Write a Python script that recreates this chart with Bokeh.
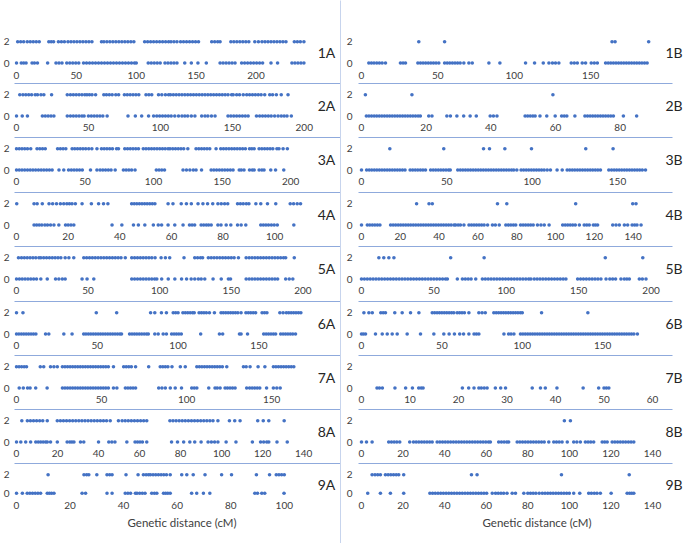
from bokeh.plotting import figure
from bokeh.layouts import row, column
from bokeh.models import Range1d, FixedTicker, Title, LinearAxis
from bokeh.core.properties import value
from bokeh.embed import file_html
from bokeh.resources import INLINE

DOT = "#4472C4"
RULE = "#8FAADC"
TICK = "#404040"
FONT = "Lato"

# ---------------- data: marker positions (cM) at genotype class 2 and 0 ----------------
chr1A_at2 = [1,3.5,6,9,11.5,14,16.5,19, 27,29,31, 35,37.5,40, 43,45.5,48,50.5,53,55.5,58,60.5,63, 71,73,75.5,78,80.5,83,85.5,88,90.5,93,95.5,98,
             107,109.5,112,114.5,117,119.5,122,124.5,127, 129,131.5,134, 137,139.5,142,144.5,147,149.5,152, 163,165.5,168,170,
             179,181.5,184,186.5,189,191.5,194, 199, 202, 205,207.5,210,212.5,215,217.5,220,222.5,225, 232,234.5,237,240]
chr1A_at0 = [0, 4,6,8, 13,15,17.5, 26, 33,35.5,38, 42,44.5,47,49.5,52, 56,58.5,61,63.5,66,68.5,71,73.5,76,78.5,81,83.5,86,88.5,91,93.5,96,98.5,100,
             110,112.5,115,117.5,120, 124,126.5,129,131.5,134, 140.5, 146, 151.5, 158.5, 170,172.5,175,177.5,180,182.5,
             188,190.5,193,195.5,198,200.5,203,205.5, 212.5, 218, 230,232.5,235,237.5,240]
chr2A_at2 = [2.3,4.5,6.5,8.5,10.5,13, 14.6,17,19, 24.4, 35.3,37.5,39.5,41.5,43.5,45.5,47.5,49, 50.7,52.5,55, 60.7,62.5,64.5,66.5,69,71,
             75,77,79,81,83,85, 90,92,94, 98.7,101,103.5,105.7, 107,109,111,113,115,117,119,121,123,125,127,129,131,133,135,137,139,141,143,145,147,149.5,
             150.6,153,155,157.6, 160,162,164,166,168,170,172.5, 176,178,180.6, 184, 188.7]
chr2A_at0 = [0, 4, 7.6, 18,20,22,24,26, 35.3,37.5,39.5,41.5,43.5,45.5,47, 50,52,54,56,58,60,63, 77.5, 82.6, 87, 91.8,
             95.3,97.5,99.5,101.5,103.5,105.5,107.5,110,112.6, 115,117,119,121.5,124, 128.7,131,133,135.5,138,
             147,149,151,153,155,157,159,161, 166.8,169,171,173,175,177,179.4, 181.8,184,186,188,191]
chr3A_at2 = [0,2,4,6,8,10.4, 15,17,19,21, 30,32,34,36, 40.6,42.5,44.5,46.5,48.5,50.5,52.7, 55, 58.7, 62,64,66,68,70,73, 74.4,
             79,81,83,85,87,89, 92.5,94.5,96.5,98.5,100.5,102.5,104.5,106.5,108.5,110.6, 112,114,116,118,120,122,125,
             131,133,135,137,139,141, 145.6, 149,151,153,155,157,159,161,163,165,167, 170,171.7,173.4,
             177,179,181,183,185,187,190, 191.5,194.5,197.6]
chr3A_at0 = [0,2,4,6,8,10,12,14,16,18,20,22,24,26, 31, 34.5, 38,40,42,44,46,48, 54, 58.7,61,63,65,67,69,72, 78,80,82,84, 86.5,
             102,104,106,108, 121.5,124,126.5,129,131, 135, 142,144,146,148,150,152,154,156,158, 162.5,164,166,
             170,172,173.4, 177,179,180.6, 185.5, 189, 195]
chr4A_at2 = [0.1, 6.8,8,10, 12.6,14,15.5,17, 18.3,19.5,20.5,21.5,22.8, 25.4, 29, 31.8, 33.7, 35.4,
             44.6,45.6,46.6,47.6,48.6,49.6,50.6,51.6,52.6,53.6, 58.7,60.6, 63.8,65.8, 67.7, 70.3, 72.2, 74, 76,
             78,79.3,80.6,81.8, 85.6,86.7,87.8,89,90, 92.7,94.6, 97.2, 100.4, 106,107.3,108.7,110]
chr4A_at0 = [6.8,7.8,8.8,9.8,11,12,13.2, 14.5,16.4, 19,20,21.1,22.2, 37, 40.8, 45.3,47.2, 49.7, 53,54.9, 56.2, 58.7, 61.3, 64.5,
             67,68,69, 71.5,72.5,73.5,74.4,75.4, 78,79.2, 81.2, 83, 85.6,87, 88.8, 94.6,95.6,96.6,97.6,98.7,99.8,101, 107.4]
chr5A_at2 = [1.4,3.5,5.5,7.5,9.5,11.5,13.5,15.7, 17,19,21,23,25,27,29,31,34, 36.6,40,
             47,49,51,53,55,57,59,61,63,65,67,69,71,73,76, 80.5,82.5,84.5,86.5,88.5,90.5,92.5,94.5,96.8, 101,104,107, 117,
             124.5,126.5,128.5,130, 134,136,138,140,142,144,146,148,150,152,155,
             160.4,162.5,164.5,166.5,168.5,170.5,172.5,174.5,176.5,178.5,180.5,182.5,184.5,186.5,188, 194]
chr5A_at0 = [0,2,4,6,8,10,12,14,17, 21.5, 27.3, 29.6,32,34, 45.8,49.3, 54, 80.5,82.5,84.5,86.5,88.5,90.5,92.5,94.5,96.5,98,
             101.4, 106, 110.6, 115.3, 118.8, 122,124.5,127,129,131.5, 137.3, 143, 148,149.5,
             160.4,162.5,164.5,166.5,168.5,170.5,172.5,174.5,176.5,178.5,180.5,182.4, 188,190.5,193]
chr6A_at2 = [0, 4, 49.4, 62, 83, 85.6, 89.7, 92.8, 97,98.5,100, 103,104.5,106,107.5,109,110, 113,114.5,116,117.5,119.4, 122.5,
             126.6,128,129.5,131,132.5,134,135.5,137,139, 142,143.5,145,146.5,148, 152,153.5,155,
             163,165,167,168.5,170,171.5,173,174.5,176]
chr6A_at0 = [0,1.5,3,4.5,6,7.5,9,10.5,12, 18,20, 29.3, 34.4,
             41.6,43,44.5,46,47.5,49,50.5,52,53.5,55,56.5,58,59.5,61,62.5,64,65, 70,71.5,73,74.5,76,77.5,79,80.5,81.6,
             85.6,87.7, 90.8,92.8, 96,97.5,99,100.5,102, 114, 125.6,127.6, 138,139, 143, 153,154.5,156,157.5,159,160.4,
             163.5,165,166.5,168,169.5,171,172.7]
chr7A_at2 = [0,1.5,3,4.5,5.9, 14,16, 20,22,24, 27,28.5,30,31.5,33,34.5,36,37.5,39,40.5,42,43.5,45,46.5,48,49.5,51,52.5,54,57,
             63,64.5,66,67.5,70, 77.7, 84.5,86,87.5,89,91.4, 96.3, 99.2, 106,107.5,109,110.5,112,113.5,115,116.5,118,119.5,121,123.6,
             133.4,135,137.3, 142, 146, 151,152.5,154,155.5,157,158.5,160,161.5,163]
chr7A_at0 = [1.6,4,6.5,8,11.3, 18, 27,28.5,30,31.5,33,34.5,36,37.5,39,40.5,42,43.5,45,46.5,48,49.5,51,52.5,54, 57, 59,
             64,65.5,67,68.5,70, 83.6,85.5,87.5, 90.4,93.3, 97, 103,104.5,106, 113, 116.7,118,119.7,
             122.6,124,125.5,127,128.5, 135.3,137,138.5,140,141.5,143, 147, 151,153,155]
chr8A_at2 = [2.6, 5.3,6.8,8.3,9.8,11.3,12.8,15, 19.9,21.4,22.9,24.4,25.9,27.4,28.9,30.4,31.9,33.4,34.9,36.4,37.9,39.4,40.9,42.4,43.9,45.7,
             49.7,51.5,53,54.5,56,57.5,59,60.5,62,63.5, 74.8,76.3,77.8,79.3,80.8,82.3,83.8,85.3,86.8,88.3,89.8,91.3,92.8,94.3,95.8,98.2,
             103.8,106.4,109, 117.6,120.3,123, 130.5]
chr8A_at0 = [0, 2.1, 4.5, 6.9, 9.4,10.6,11.8,13,14.2,15, 16.6, 19.9, 24.7,26,27,28, 31.2,32.8, 40, 45,46.5,48, 53.8,
             57.8,59,60.2,61.4,63.5, 75.6,78.5,81.5,84.5, 86.9, 90, 93.4,95,96.6, 98.2, 102.2, 107, 115, 119,120.5,122,123, 127, 132]
chr9A_at2 = [11.8, 25.2,26.2,27, 30, 33.8,34.8,35.7, 40.9, 45.4,47.4,48.4,49.3, 50,51,52,53,54,55,56,57.4,
             61.7,63.6, 66, 70.4, 76.6, 80.3, 89.6, 94.5, 97,98,99,100]
chr9A_at0 = [0, 2.2, 4,5,6,7,8,9, 11.5,12.3,13.1,14, 24.5,25.8, 33.8,35.7, 40.6,41.6,42.6,44.4, 45,46,47,48,
             50.5,51.5,52.4, 54.9,55.7,56.5,57.4, 65.4, 67.3, 69.8, 72.2, 89,90,91.6,92.7, 99.9]

chr1B_at2 = [37.5, 54.4, 164, 166, 188]
chr1B_at0 = [4.8,6.5,8.2,10,11.7,13.5,15.7, 25.5,27.2,28.8, 36.9,38.6,40.3,42,43.7,45.4,47.1,48.8,50.6,
             54.4,56.1,57.8,59.5,61.2,62.9,64.6,67, 70.3,72.5, 83.4, 90.6, 107.4, 113.3, 119, 122.7,125,127,129.2,
             137.3,139.3,141.3, 144.5,146.7, 150.4,152.4,154.4,
             159.8,161.5,163.2,164.9,166.6,168.3,170,171.7,173.4,175.1,176.8,178.5,180.2,181.9,183.6,185.3,187]
chr2B_at2 = [1.2, 15.6, 59.2]
chr2B_at0 = [1.5,2.3,3.1,3.9,4.7,5.5,6.3,7.1,7.9,8.7,9.5,10.3,11.1,11.9,12.7,13.5,14.3,15.1,15.9,16.7,17.5,18.2,
             20.8,21.8, 26.4,27.5, 29.5, 31.6, 33.6, 35.5, 39.8,40.8,41.9, 50.6,51.4,52.2,53,53.7, 55.2, 57.3, 59.9,
             61.9,62.7,63.5, 66, 69.1,69.9,70.7,71.5,72.3,73.1,73.9,74.7,75.5,76.3,77.1,77.9, 81, 85.1]
chr3B_at2 = [16.6, 48.2, 71.5, 75, 84, 99.6, 131.4, 147.4]
chr3B_at0 = [0,3,4.5,6,7.5,9,10.5,12,13.5,15,16.5,18,19.5,21,22.5,24,25.5,28.5,30,31.5,33,34.5,36,37.5,40.5,42,43.5,45,46.5,48,49.5,51,52,
             56.4,57.9,59.4,60.9,62.4,63.9,65.4,66.9,68.4,69.9,71.4,72.9,74.4,75.9,77.4,78.9,80.4,81.9,83.4,84.9,86.4,87.9,89.2,
             91, 93.5,95,96.5, 98,99.5,101,102.5,104,105.5,107,108.8, 110.7, 114.6, 117.6,
             120.5,122,123.5,125,126.5,128,129.5,131,132.5,134,135.5,137,138.5,140,
             144.9,146.5,148,149.5,151,152.5,154,155.5,157,158.5,160,161.5,163,164.5,166.4]
chr4B_at2 = [28.4, 34.8, 36.5, 70.1, 74.9, 110.4, 139.8, 141.5]
chr4B_at0 = [0, 3,4.3,5.6,6.9,8.2,9.5, 15,16.3,17.6,18.9,20.2,21.5,22.8,24.1,25.4,26.7,28,29.3,30.6,31.9,33.2,34.5,35.8,37.1,38.4,39.7,
             41,42.3,43.6,44.9,46.2,47.7, 48.5,49.8,51, 52.8, 55.4,56.7,58,59.3,60.6,61.9,63.2,65, 67.5,69,71,
             74.4,75.7,77,78.3,79.5, 82,83.3,84.6,85.9,87.2,88.5,90.7, 92.5,94.2, 96.7, 103.7,105,106.3,107.6,108.9,110.2,112.3,
             114.8,116.1,117.4, 119.5,120.6,121.7, 129.5,131.2,132.9, 135.5, 137.2, 139.5,140.8,142, 144.1]
chr5B_at2 = [12, 15.4, 18.9, 22.4, 61.6, 84.7, 168.4, 194.3]
chr5B_at0 = [0,2,4,6,8,10,12,14,16,18,20,22,24,26,28,30,32,34,36,38,40,42,44,46,48,50,52,54,56,58,59.3,
             66.2, 69.7,71.7,73.7,75.7,78.9,
             83.5,85.5,87.5,89.5,91.5,93.5,95.5,97.5,99.5,101.5,103.5,105.5,107.5,109.5,111.5,113.5,115.5,117,
             119.3,121.3,123.3,125.3,127.3,129.3,131.3,133.3,135.3,137.3,139.3,141.2,
             149.3,151.3,153.3,155.3,157.3,159.3,161.3,163.3,165.4, 168.9, 171.5,173.5,175.5, 179.2, 181.5,183.3,185, 191.9,194,196.5]
chr6B_at2 = [1.5, 4.6, 6.7, 12,13.5,14.9, 20.7, 25.3, 30.5, 35.7, 44,45.5,47,48.5,50,51.5,53,54.5,56,57.4, 59.5,61,62.5,64,66.8, 73,75,77,
             82.3,83.8,85.3,86.8,88.3,89.8,91.3,92.8,94.3,95.8,97.3,98.8,100, 112, 140.8]
chr6B_at0 = [0,1.2,2.5, 8.7, 12.9, 16, 19.1, 22.2, 28.4, 36.7, 45, 51.2, 54.5, 57.8, 61.1, 63.5, 66.8, 70,71.5,73, 88.6, 91.5,93,94.8,
             98.9,100.4,101.9,103.4,104.9,106.4,107.9,109.4,110.9,112.4,113.9,115.4,116.9,118.4,119.9,121.4,122.9,124.4,125.9,127.4,
             128.9,130.4,131.9,133.4,134.9,136.4,137.9,139.4,140.9,142.4,143.9,145.4,146.9,148.4,149.9,151.4,152.9,154.4,155.9,
             157.4,158.9,160.4,161.9,163.4,164.9,166.4,167.9,169.4,171.6]
chr7B_at2 = []
chr7B_at0 = [3.2,3.7,4.3, 6.9, 9.1, 10.5, 11.8,12.3,12.7, 20.8, 22.1, 23.2, 24.2,24.7,25.3,25.9, 27.6, 28.7, 29.7,
             35.2, 36.9, 37.9, 40.3, 45.7, 48.9, 50,50.5,51]
chr8B_at2 = [97.6, 100.5]
chr8B_at0 = [0, 2.4, 5.1, 13.1,14.4,15.7,17,18.4, 23.2,25,26.3,27.6,28.9,30.2,31.5,32.8,34,
             36.4,37.7,39,40.3,41.6,42.9,44.2,45.5,46.8,48.1,49.4,50.7,52,53.3,54.6,55.9,57.2,58.5,59.8,61.1,62,
             66,67.3,68.6,69.9,70.8, 74.9,76.2,77.5,78.8,80.1,81.4,82.7,84,85.3,86.6,87.9,90.1, 92.5,93.8,95.1,96.5, 99,
             102.1,103.6,105.3, 107.7,109,110.3,111.7, 115.8,117,118.2, 120.6,121.9,123.2,124.5,125.8,127.1,128.4,129.7,131]
chr9B_at2 = [5.1, 6.5, 7.8, 9.1, 11.5,12.8,14.1,15.4,16.7,17.9, 20.3, 52.9, 55.6, 96.2, 128.8]
chr9B_at0 = [3, 9.1, 13.9, 20.3, 32.9,34.2,35.5,36.8,38.1,39.4,40.7,42,43.3,44.6,45.9,47.2,48.5,49.8,51.1,52.4,53.7,55,56.3,57.6,58.9,60.2,
             62.9, 64.5,65.8,67.1,68.4, 70,72.5,74.1, 78.1, 80,81.3,82.6,83.9, 85.5, 87,88.3,89.6,90.9,92.2,93.5,94.8,96.1,97.4,98.7,100,102.1,
             105, 109.3,110.6,112,113.3,114.9, 120.1, 127.8,129,130,131]

# axis extents (cM) and tick labels per chromosome
axis_max = {"1A": 241.5, "2A": 201, "3A": 211, "4A": 112, "5A": 202, "6A": 179, "7A": 170, "8A": 141, "9A": 108,
            "1B": 190.5, "2B": 90, "3B": 170.5, "4B": 150, "5B": 201, "6B": 181, "7B": 60, "8B": 140, "9B": 140}
ticks_by50_200 = [0, 50, 100, 150, 200]
ticks_by50_150 = [0, 50, 100, 150]
ticks_by20_100 = [0, 20, 40, 60, 80, 100]
ticks_by20_80 = [0, 20, 40, 60, 80]
ticks_by20_140 = [0, 20, 40, 60, 80, 100, 120, 140]
ticks_by10_60 = [0, 10, 20, 30, 40, 50, 60]
axis_ticks = {"1A": ticks_by50_200, "2A": ticks_by50_200, "3A": ticks_by50_200, "4A": ticks_by20_100, "5A": ticks_by50_200,
              "6A": ticks_by50_150, "7A": ticks_by50_150, "8A": ticks_by20_140, "9A": ticks_by20_100,
              "1B": ticks_by50_150, "2B": ticks_by20_80, "3B": ticks_by50_150, "4B": ticks_by20_140, "5B": ticks_by50_200,
              "6B": ticks_by50_150, "7B": ticks_by10_60, "8B": ticks_by20_140, "9B": ticks_by20_140}
genotype_classes = [0, 2]
x_title = "Genetic distance (cM)"

left_data = [("1A", chr1A_at2, chr1A_at0), ("2A", chr2A_at2, chr2A_at0), ("3A", chr3A_at2, chr3A_at0),
             ("4A", chr4A_at2, chr4A_at0), ("5A", chr5A_at2, chr5A_at0), ("6A", chr6A_at2, chr6A_at0),
             ("7A", chr7A_at2, chr7A_at0), ("8A", chr8A_at2, chr8A_at0), ("9A", chr9A_at2, chr9A_at0)]
right_data = [("1B", chr1B_at2, chr1B_at0), ("2B", chr2B_at2, chr2B_at0), ("3B", chr3B_at2, chr3B_at0),
              ("4B", chr4B_at2, chr4B_at0), ("5B", chr5B_at2, chr5B_at0), ("6B", chr6B_at2, chr6B_at0),
              ("7B", chr7B_at2, chr7B_at0), ("8B", chr8B_at2, chr8B_at0), ("9B", chr9B_at2, chr9B_at0)]

# ---------------- layout geometry (pixels) ----------------
PANEL_H = [82, 54, 55, 54, 55, 54, 54, 54, 81]      # figure heights, sum = 543
FRAME_TOP = [30, 1, 1, 1, 1, 1, 1, 1, 1]           # border above each frame (separator sits on frame top)
FRAME_H = [35, 35, 35, 35, 35, 35, 35, 35, 33]
ROW_GAP = [21.2, 21.2, 21.2, 21.2, 21.2, 21.2, 21.2, 21.2, 18.5]  # px between class 2 and class 0
TOP_GAP = 11.3                                      # px from frame top to class 2
TICK_STANDOFF = [6, 5, 5, 5, 5, 5, 5, 5, 5]
SIDE = {
    "L": dict(width=340, bl=12, pad=2, inner=291, lab_dx=12, ystand=5, sep0=-2, sep1=326, title_off=113),
    "R": dict(width=344, bl=17, pad=3, inner=291, lab_dx=13, ystand=6, sep0=-21, sep1=311, title_off=124),
}


def style_axis(ax, size="10px"):
    ax.axis_line_color = None
    ax.major_tick_line_color = None
    ax.minor_tick_line_color = None
    ax.major_tick_out = 0
    ax.major_tick_in = 0
    ax.major_label_text_font = FONT
    ax.major_label_text_font_size = size
    ax.major_label_text_color = TICK


def make_panel(name, at2, at0, k, side):
    g = SIDE[side]
    xmax = axis_max[name]
    per_px = xmax / g["inner"]
    frame_w = g["width"] - g["bl"]
    x_lo = -g["pad"] * per_px
    x_hi = (frame_w - g["pad"]) * per_px
    ppu = ROW_GAP[k] / 2.0
    y_hi = 2 + TOP_GAP / ppu
    y_lo = -(FRAME_H[k] - TOP_GAP - ROW_GAP[k]) / ppu
    h = PANEL_H[k]
    top = FRAME_TOP[k]
    bottom = h - top - FRAME_H[k]
    p = figure(width=g["width"], height=h, output_backend="svg", toolbar_location=None, title=None,
               x_range=Range1d(x_lo, x_hi), y_range=Range1d(y_lo, y_hi),
               min_border_left=g["bl"], min_border_right=0, min_border_top=top, min_border_bottom=bottom,
               outline_line_color=None, background_fill_color="white", border_fill_color="white")
    p.xgrid.visible = False
    p.ygrid.visible = False
    p.scatter(x=at2, y=[genotype_classes[1]] * len(at2), size=3.6, color=DOT, line_color=None)
    p.scatter(x=at0, y=[genotype_classes[0]] * len(at0), size=3.6, color=DOT, line_color=None)
    p.text(x=[xmax], y=[1], text=[name], x_offset=g["lab_dx"], text_baseline="middle", text_align="left",
           text_font=value(FONT), text_font_size="14px", text_color="#262626")

    xa = p.xaxis[0]
    xa.ticker = FixedTicker(ticks=axis_ticks[name])
    style_axis(xa)
    xa.major_label_standoff = TICK_STANDOFF[k]

    ya = p.yaxis[0]
    ya.ticker = FixedTicker(ticks=genotype_classes)
    style_axis(ya)
    ya.major_label_standoff = g["ystand"]

    if k > 0:
        sep = LinearAxis(ticker=FixedTicker(ticks=[]), axis_line_color=RULE, axis_line_width=1,
                         major_tick_line_color=None, minor_tick_line_color=None, major_tick_out=0, major_tick_in=0,
                         major_label_text_font_size="0px", major_label_standoff=0,
                         bounds=(g["sep0"] * per_px, g["sep1"] * per_px))
        p.add_layout(sep, "above")
    if k == 8:
        p.add_layout(Title(text=x_title, align="left", offset=g["title_off"], text_font=FONT,
                           text_font_size="11.5px", text_font_style="normal", text_color=TICK, standoff=5), "below")
    return p


def make_column(data, side):
    return column(*[make_panel(name, at2, at0, k, side) for k, (name, at2, at0) in enumerate(data)], spacing=0)


divider = figure(width=1, height=543, output_backend="svg", toolbar_location=None, title=None,
                 x_axis_location=None, y_axis_location=None, min_border=0,
                 outline_line_color=None, background_fill_color=RULE, border_fill_color=RULE)
divider.xgrid.visible = False
divider.ygrid.visible = False

layout = row(make_column(left_data, "L"), divider, make_column(right_data, "R"), spacing=0)

open("out.html", "w").write(file_html(layout, INLINE))
